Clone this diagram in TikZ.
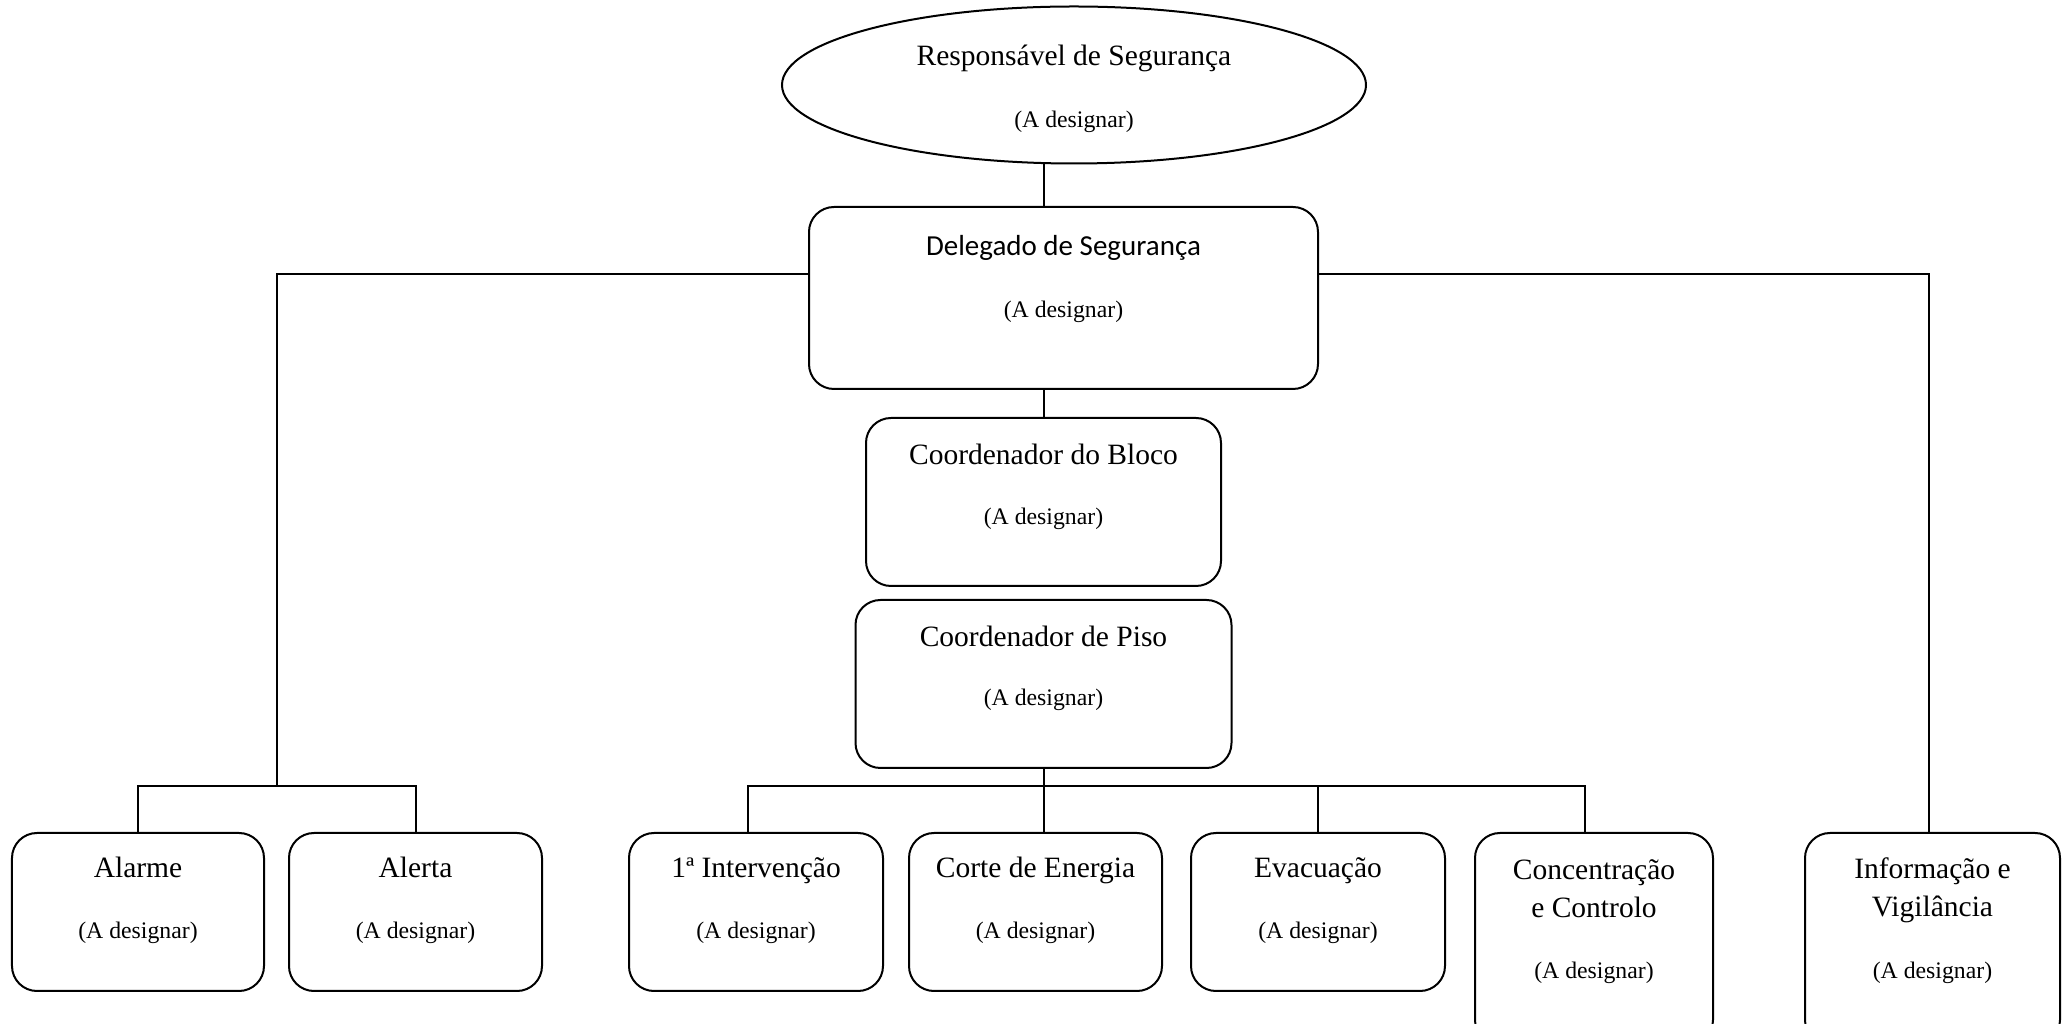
\documentclass[tikz,border=0pt]{standalone}
\usepackage{fontspec}
\setmainfont{Liberation Serif}
\newfontfamily\calfont{Carlito}
\usetikzlibrary{shapes.geometric}
\begin{document}
\begin{tikzpicture}[x=0.4pt,y=-0.4pt,
  ln/.style={line width=0.8pt},
  orgbox/.style={draw,line width=0.8pt,rounded corners=10pt,inner sep=0pt},
  ttl/.style={inner sep=0pt,align=center,font=\fontsize{11.8}{15.2}\selectfont},
  sub/.style={inner sep=0pt,font=\fontsize{9.5}{11}\selectfont}]
\useasboundingbox (0,0) rectangle (2069,1024);
\clip (0,0) rectangle (2069,1024);
% top ellipse
\node[ellipse,draw,line width=0.8pt,minimum width=233.6pt,minimum height=62.8pt,inner sep=0pt] (resp) at (1074,85) {};
\node[ttl] (respt) at (1074,58) {Responsável de Segurança};
\node[sub] (resps) at (1074,121.6) {(A designar)};
% delegado
\node[orgbox,minimum width=203.6pt,minimum height=72.8pt] (deleg) at (1063.5,298) {};
\node[ttl,font=\calfont\fontsize{11.6}{14}\selectfont] (delegt) at (1063.5,248) {Delegado de Segurança};
\node[sub] (delegs) at (1063.5,311.6) {(A designar)};
% bloco
\node[orgbox,minimum width=142pt,minimum height=67.2pt] (bloco) at (1043.5,502) {};
\node[ttl] (blocot) at (1043.5,454) {Coordenador do Bloco};
\node[sub] (blocos) at (1043.5,518.6) {(A designar)};
% piso
\node[orgbox,minimum width=150.4pt,minimum height=67.2pt] (piso) at (1043.5,684) {};
\node[ttl] (pisot) at (1043.5,636) {Coordenador de Piso};
\node[sub] (pisos) at (1043.5,699.6) {(A designar)};
% bottom row
\node[orgbox,minimum width=100.8pt,minimum height=63.2pt] (alarme) at (138,912) {};
\node[ttl] (alarmet) at (138,867) {Alarme};
\node[sub] (alarmes) at (138,932.6) {(A designar)};
\node[orgbox,minimum width=101.2pt,minimum height=63.2pt] (alerta) at (415.5,912) {};
\node[ttl] (alertat) at (415.5,867) {Alerta};
\node[sub] (alertas) at (415.5,932.6) {(A designar)};
\node[orgbox,minimum width=101.6pt,minimum height=63.2pt] (interv) at (756,912) {};
\node[ttl] (intervt) at (756,871) {1ª Intervenção};
\node[sub] (intervs) at (756,932.6) {(A designar)};
\node[orgbox,minimum width=101.2pt,minimum height=63.2pt] (corte) at (1035.5,912) {};
\node[ttl] (cortet) at (1035.5,870) {Corte de Energia};
\node[sub] (cortes) at (1035.5,932.6) {(A designar)};
\node[orgbox,minimum width=101.6pt,minimum height=63.2pt] (evac) at (1318,912) {};
\node[ttl] (evact) at (1318,871) {Evacuação};
\node[sub] (evacs) at (1318,932.6) {(A designar)};
\node[orgbox,minimum width=95.2pt,minimum height=84.8pt] (conc) at (1594,939) {};
\node[ttl] (conct) at (1594,889) {Concentração\\e Controlo};
\node[sub] (concs) at (1594,972.6) {(A designar)};
\node[orgbox,minimum width=102pt,minimum height=84.8pt] (info) at (1932.5,939) {};
\node[ttl] (infot) at (1932.5,890) {Informação e\\Vigilância};
\node[sub] (infos) at (1932.5,972.6) {(A designar)};
% junction coordinates
\coordinate (trunk) at (1044,0);
\coordinate (lj) at (277,786);
\coordinate (pj) at (1044,786);
\coordinate (hy) at (0,274);
\coordinate (ij) at (748,0);
\coordinate (cj) at (1585,0);
\coordinate (vj) at (1929,0);
% connectors
\draw[ln] (resp.south -| trunk) -- (deleg.north -| trunk);
\draw[ln] (deleg.south -| trunk) -- (bloco.north -| trunk);
\draw[ln] (deleg.west |- hy) -| (lj);
\draw[ln] (deleg.east |- hy) -| (info.north -| vj);
\draw[ln] (alarme.north) |- (lj) -| (alerta.north);
\draw[ln] (piso.south -| trunk) -- (pj);
\draw[ln] (interv.north -| ij) |- (pj) -| (conc.north -| cj);
\draw[ln] (pj) -- (corte.north -| pj);
\draw[ln] (evac.north) -- (evac.north |- pj);
\end{tikzpicture}
\end{document}
